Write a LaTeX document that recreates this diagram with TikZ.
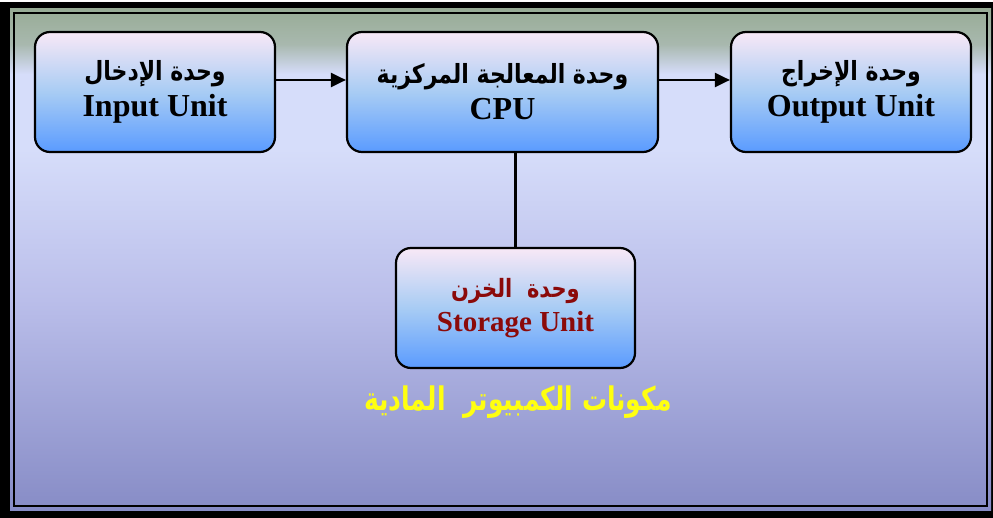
\documentclass[tikz,border=0pt]{standalone}
\usepackage{fontspec}
\setmainfont{Liberation Serif}
\newfontfamily\arfont[Script=Arabic]{DejaVu Sans}
\TeXXeTstate=1
\usetikzlibrary{arrows.meta}
\definecolor{bgtop}{HTML}{98AC96}
\definecolor{bgmid}{HTML}{A8B8AE}
\definecolor{bglight}{HTML}{D6DDFA}
\definecolor{bgmid2}{HTML}{BABEEA}
\definecolor{bgbot}{HTML}{878CC6}
\definecolor{boxtop}{HTML}{F8E8F6}
\definecolor{boxmid}{HTML}{A8CCF4}
\definecolor{boxbot}{HTML}{5A9BFF}
\definecolor{darkred}{HTML}{8B0A0A}
\definecolor{ttlyellow}{HTML}{FFFF10}
\pgfdeclareverticalshading{bgshade}{100bp}{color(0bp)=(bgbot); color(25bp)=(bgbot); color(46bp)=(bgmid2); color(61bp)=(bglight); color(68.5bp)=(bglight); color(71.5bp)=(bgmid); color(75bp)=(bgtop); color(100bp)=(bgtop)}
\newcommand{\artext}[3][1.2]{{\arfont\fontsize{#2}{#2}\selectfont\scalebox{1}[#1]{#3}}}
\tikzset{
  unitbox/.style={draw=black, line width=2.2pt, rounded corners=15pt,
    minimum width=240pt, minimum height=120pt, align=center,
    top color=boxtop, bottom color=boxbot, middle color=boxmid,
    font=\bfseries\fontsize{32}{36}\selectfont},
  conn/.style={line width=2.2pt, draw=black},
  arr/.style={conn, -{Triangle[length=15pt,width=14pt]}}
}
\begin{document}
\begin{tikzpicture}[x=1pt,y=-1pt]
\useasboundingbox (0,0) rectangle (993,518);
\fill[black] (0,2) rectangle (993,518);
\shade[shading=bgshade] (10,9) rectangle (991,510);
\draw[black, line width=2pt] (14,13) rectangle (987,506);
\node[unitbox] (in) at (155,92) {\artext{22}{\beginR وحدة الإدخال\endR}\\[0pt]Input Unit};
\node[unitbox, minimum width=311pt] (cpu) at (502.5,92) {\artext{22}{\beginR وحدة المعالجة المركزية\endR}\\[0pt]CPU};
\node[unitbox] (out) at (851,92) {\artext{22}{\beginR وحدة الإخراج\endR}\\[0pt]Output Unit};
\node[unitbox, minimum width=239pt, text=darkred, font=\bfseries\fontsize{29}{34}\selectfont] (sto) at (515.5,308) {\artext{21}{\beginR وحدة \ الخزن\endR}\\[0pt]Storage Unit};
\node[text=ttlyellow, font=\bfseries] (title) at (518,402) {\artext[1.3]{25}{\beginR مكونات الكمبيوتر \ المادية\endR}};
\draw[arr] ([yshift=12pt]in.east) -- ([yshift=12pt]cpu.west);
\draw[arr] ([yshift=12pt]cpu.east) -- ([yshift=12pt]out.west);
\draw[conn] (sto.north) -- (sto.north |- cpu.south);
\end{tikzpicture}
\end{document}
